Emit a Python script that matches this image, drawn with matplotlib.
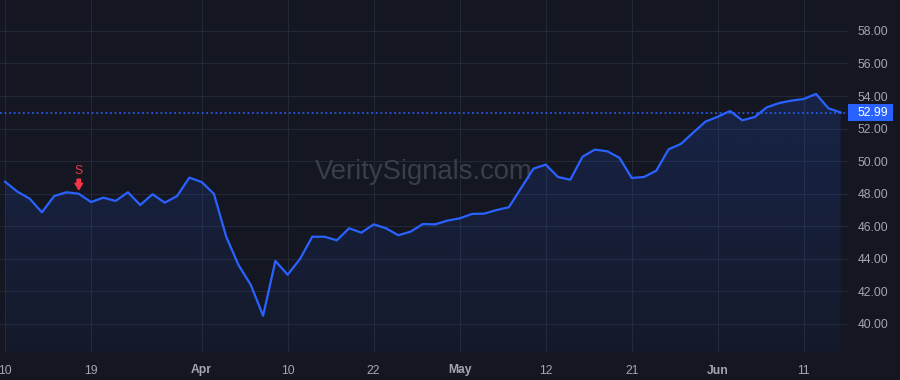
import numpy as np
import matplotlib
matplotlib.use("Agg")
import matplotlib.pyplot as plt
from matplotlib.patches import Rectangle
from matplotlib.transforms import blended_transform_factory

# daily closes, trading days 10 Mar -> 16 Jun
prices = [48.74, 48.13, 47.70, 46.86, 47.86, 48.09, 48.00, 47.49, 47.76, 47.56,
          48.09, 47.31, 47.97, 47.45, 47.86, 48.99, 48.72, 47.99, 45.36, 43.62,
          42.40, 40.51, 43.87, 43.03, 43.99, 45.36, 45.36, 45.14, 45.88, 45.61,
          46.12, 45.88, 45.45, 45.67, 46.14, 46.12, 46.35, 46.49, 46.76, 46.78,
          47.00, 47.17, 48.35, 49.54, 49.79, 49.03, 48.86, 50.28, 50.71, 50.61,
          50.21, 48.97, 49.03, 49.42, 50.73, 51.06, 51.75, 52.43, 52.73, 53.08,
          52.51, 52.71, 53.31, 53.57, 53.72, 53.82, 54.13, 53.25, 52.99]
tick_idx = [0, 7, 16, 23, 30, 37, 44, 51, 58, 65]
tick_labels = ["10", "19", "Apr", "10", "22", "May", "12", "21", "Jun", "11"]
month_labels = {"Apr", "May", "Jun"}
y_ticks = [40, 42, 44, 46, 48, 50, 52, 54, 56, 58]
signal_idx = 6
signal_text = "S"
last_price = prices[-1]

BG = "#141722"; GRID = "#242835"; BLUE = "#2962ff"; TXT = "#a3a6af"; RED = "#f23645"
plt.rcParams["font.family"] = ["Liberation Sans", "DejaVu Sans"]

x = np.arange(len(prices)); y = np.array(prices)
fig = plt.figure(figsize=(9, 3.8), dpi=100, facecolor=BG)
ax = fig.add_axes([0, 28 / 380, 848 / 900, 352 / 380], facecolor=BG)
ax.set_xlim(-0.41, 68.6); ax.set_ylim(38.28, 59.9)

# gradient area under the line
ymin, ymax = ax.get_ylim()
grad = np.zeros((256, 2, 4))
grad[..., 0], grad[..., 1], grad[..., 2] = 41 / 255, 98 / 255, 1.0
grad[..., 3] = np.linspace(0.17, 0.04, 256)[:, None]
poly = ax.fill_between(x, y, ymin, color="none", lw=0)
img = ax.imshow(grad, extent=[x[0], x[-1], ymin, y.max()], aspect="auto", origin="upper", zorder=1)
img.set_clip_path(poly.get_paths()[0], transform=ax.transData)
ax.plot(x, y, color=BLUE, lw=1.6, zorder=3, solid_joinstyle="round")
ax.axhline(last_price, color=BLUE, lw=1.1, ls=(0, (1.2, 1.8)), zorder=2)

ax.set_xticks(tick_idx); ax.set_xticklabels(tick_labels)
for t in ax.get_xticklabels():
    if t.get_text() in month_labels: t.set_fontweight("bold")
ax.set_yticks(y_ticks); ax.set_yticklabels([f"{v:.2f}" for v in y_ticks])
ax.yaxis.tick_right()
ax.tick_params(axis="x", length=0, pad=9, labelsize=8.7, labelcolor=TXT)
ax.tick_params(axis="y", length=0, pad=7, labelsize=8.8, labelcolor=TXT)
ax.grid(True, color=GRID, lw=0.8); ax.set_axisbelow(True)
for s in ax.spines.values(): s.set_visible(False)

ax.text(0.5, 0.51, "VeritySignals.com", transform=ax.transAxes, ha="center", va="center",
        fontsize=19.7, color="#3a3e49", zorder=2)

# sell signal marker
sv = prices[signal_idx]
ax.annotate("", xy=(signal_idx, sv), xytext=(0, 10.5), textcoords="offset points",
            arrowprops=dict(arrowstyle="simple,head_length=0.45,head_width=0.55,tail_width=0.25",
                            color=RED, shrinkA=0, shrinkB=3), zorder=5)
ax.annotate(signal_text, xy=(signal_idx, sv), xytext=(0, 16.5), textcoords="offset points",
            ha="center", va="center", fontsize=8.7, color=RED, zorder=5)

# last price label on the price scale
tr = blended_transform_factory(fig.transFigure, ax.transData)
ax.add_patch(Rectangle((848 / 900, last_price - 0.5), 45 / 900, 1.0, transform=tr,
                       facecolor=BLUE, edgecolor="none", clip_on=False, zorder=6))
ax.text(858 / 900, last_price, f"{last_price:.2f}", transform=tr, ha="left", va="center",
        fontsize=8.8, color="white", zorder=7, clip_on=False)

fig.savefig("out.png", dpi=100, facecolor=BG)
